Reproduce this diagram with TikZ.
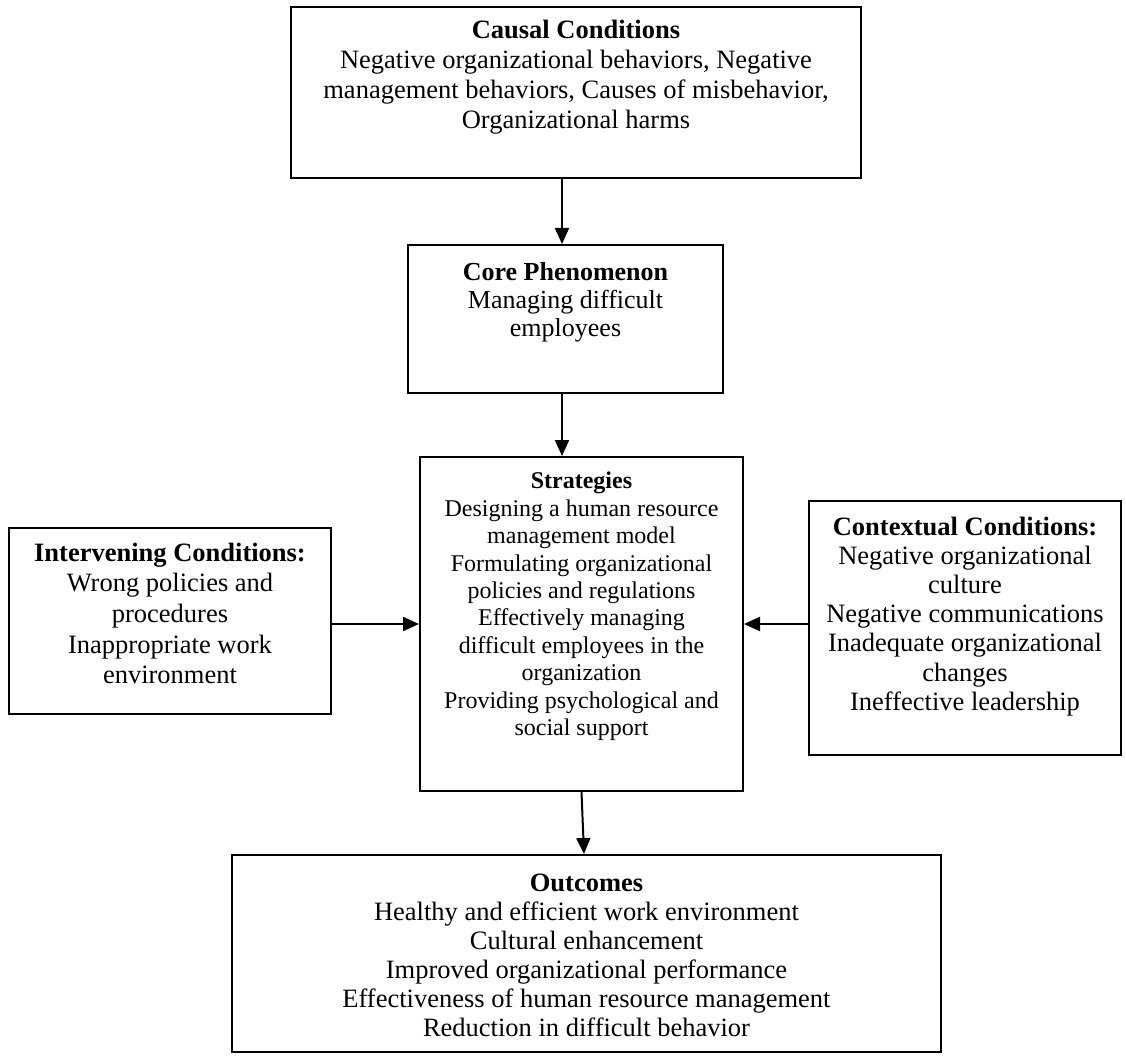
\documentclass[tikz,border=0pt]{standalone}
\usepackage{fontspec}
\setmainfont{Liberation Serif}
\usetikzlibrary{arrows.meta}
\begin{document}
\begin{tikzpicture}[x=1pt,y=-1pt,
  box/.style={draw, line width=2pt, inner sep=0pt, rectangle},
  txtA/.style={align=center, inner sep=0pt, anchor=north, font=\fontsize{26.5}{30}\selectfont},
  txtB/.style={align=center, inner sep=0pt, anchor=north, font=\fontsize{26}{28}\selectfont},
  txtC/.style={align=center, inner sep=0pt, anchor=north, font=\fontsize{24}{27.4}\selectfont},
  txtD/.style={align=center, inner sep=0pt, anchor=north, font=\fontsize{26.5}{30.7}\selectfont},
  txtE/.style={align=center, inner sep=0pt, anchor=north, font=\fontsize{26.5}{29.2}\selectfont},
  txtF/.style={align=center, inner sep=0pt, anchor=north, font=\fontsize{26.5}{29}\selectfont},
  arr/.style={line width=2pt, -{Triangle[length=16pt,width=14pt]}}]
\useasboundingbox (0,0) rectangle (1126,1056);
% boxes
\node[box, minimum width=570pt, minimum height=171pt] (causal) at (576,92.5) {};
\node[box, minimum width=315pt, minimum height=148pt] (core) at (565.5,319) {};
\node[box, minimum width=323pt, minimum height=334pt] (strat) at (581.5,624) {};
\node[box, minimum width=322pt, minimum height=186pt] (inter) at (170,621) {};
\node[box, minimum width=312pt, minimum height=254pt] (ctx) at (965,628) {};
\node[box, minimum width=709pt, minimum height=197pt] (out) at (586.5,953.5) {};
% texts
\node[txtA] (causaltxt) at (576,20) {\textbf{Causal Conditions}\\Negative organizational behaviors, Negative\\management behaviors, Causes of misbehavior,\\Organizational harms};
\node[txtB] (coretxt) at (565.5,262) {\textbf{Core Phenomenon}\\Managing difficult\\employees};
\node[txtC] (strattxt) at (581.5,472) {\textbf{Strategies}\\Designing a human resource\\management model\\Formulating organizational\\policies and regulations\\Effectively managing\\difficult employees in the\\organization\\Providing psychological and\\social support};
\node[txtD] (intertxt) at (170,542.5) {\textbf{Intervening Conditions:}\\Wrong policies and\\procedures\\Inappropriate work\\environment};
\node[txtE] (ctxtxt) at (965,516.5) {\textbf{Contextual Conditions:}\\Negative organizational\\culture\\Negative communications\\Inadequate organizational\\changes\\Ineffective leadership};
\node[txtF] (outtxt) at (586.5,873.7) {\textbf{Outcomes}\\Healthy and efficient work environment\\Cultural enhancement\\Improved organizational performance\\Effectiveness of human resource management\\Reduction in difficult behavior};
% connectors
\coordinate (c1) at ([xshift=-3.5pt]core.north);
\coordinate (c2) at ([xshift=-3.5pt]core.south);
\coordinate (o1) at ([xshift=-2.5pt]out.north);
\draw[arr] (c1 |- causal.south) -- (c1);
\draw[arr] (c2) -- (c2 |- strat.north);
\draw[arr] (strat.south) -- (o1);
\draw[arr] (inter.east |- strat.west) -- (strat.west);
\draw[arr] (ctx.west |- strat.east) -- (strat.east);
\end{tikzpicture}
\end{document}
